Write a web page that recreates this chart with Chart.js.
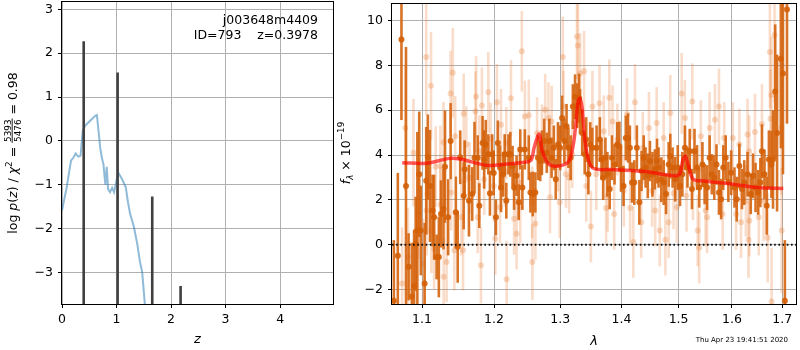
<!DOCTYPE html>
<html>
<head>
<meta charset="utf-8">
<script src="https://cdn.jsdelivr.net/npm/chart.js@4.4.1/dist/chart.umd.min.js"></script>
<style>
  html, body { margin: 0; padding: 0; background: #fff; }
  #wrap { position: relative; width: 800px; height: 350px; overflow: hidden; }
  canvas { position: absolute; top: 0; }
  #pz { left: 0; }
  #spec { left: 330px; }
</style>
</head>
<body>
<div id="wrap">
  <canvas id="pz" width="340" height="350"></canvas>
  <canvas id="spec" width="470" height="350"></canvas>
</div>
<script>
// ---- left panel: log p(z) ----
const zGrid = [0, 0.086, 0.165, 0.21, 0.25, 0.30, 0.34, 0.38, 0.42, 0.46, 0.61, 0.64, 0.70, 0.73, 0.76, 0.795, 0.82, 0.845, 0.88, 0.92, 0.955, 0.98, 1.03, 1.10, 1.17, 1.21, 1.25, 1.32, 1.38, 1.43, 1.47, 1.52, 1.58];
const logPz = [-1.59, -1.06, -0.45, -0.38, -0.29, -0.36, -0.34, 0.23, 0.34, 0.39, 0.57, 0.59, -0.15, -0.38, -0.53, -1.0, -0.59, -1.10, -1.17, -1.07, -1.17, -1.02, -0.72, -0.87, -1.06, -1.40, -1.67, -1.97, -2.35, -2.76, -2.99, -3.73, -4.3];
const spikeZ = [0.398, 1.02, 1.655, 2.175];
const spikeTop = [2.27, 1.56, -1.27, -3.31];
const pzXTicks = [0, 1, 2, 3, 4];
const pzYTicks = [-3, -2, -1, 0, 1, 2, 3];

// ---- right panel: spectrum ----
const darkLam = [1.0632, 1.0683, 1.0730, 1.0789, 1.0823, 1.0865, 1.0895, 1.0916, 1.0938, 1.0963, 1.0984, 1.1035, 1.1056, 1.1077, 1.1107, 1.1141, 1.1162, 1.1196, 1.1226, 1.1255, 1.1289, 1.1310, 1.1353, 1.1387, 1.1459, 1.1485, 1.1520,
  1.1568, 1.1582, 1.1642, 1.1688, 1.1720, 1.1766, 1.1789, 1.1835, 1.1858, 1.1881, 1.1918, 1.1941, 1.1973, 1.1996, 1.2028, 1.2056, 1.2088, 1.2102, 1.2134, 1.2157, 1.2180, 1.2212, 1.2240, 1.2272, 1.2295, 1.2332, 1.2364, 1.2387, 1.2419, 1.2456,
  1.2515, 1.2540, 1.2575, 1.2615, 1.2655, 1.2690, 1.2715, 1.2750, 1.2790, 1.2830, 1.2865, 1.2900, 1.2930, 1.2965, 1.3000, 1.3030, 1.3065, 1.3100, 1.3130, 1.3165, 1.3200, 1.3235, 1.3270, 1.3300, 1.3315, 1.3350, 1.3390, 1.3415, 1.3450, 1.3480, 1.3515,
  1.3584, 1.3638, 1.3665, 1.3693, 1.3730, 1.3763, 1.3801, 1.3839, 1.3882, 1.3926, 1.3964, 1.3991, 1.4034, 1.4072, 1.4110, 1.4142, 1.4180, 1.4218, 1.4262, 1.4305, 1.4343, 1.4381, 1.4413, 1.4451, 1.4489, 1.4533, 1.4576, 1.4614, 1.4641, 1.4690,
  1.4732, 1.4774, 1.4821, 1.4850, 1.4891, 1.4938, 1.4985, 1.5026, 1.5068, 1.5115, 1.5162, 1.5203, 1.5244, 1.5291, 1.5338, 1.5379, 1.5438, 1.5479, 1.5526, 1.5573, 1.5614, 1.5661, 1.5703, 1.5750, 1.5791, 1.5832, 1.5879, 1.5930,
  1.5984, 1.6048, 1.6092, 1.6143, 1.6194, 1.6239, 1.6303, 1.6367, 1.6411, 1.6462, 1.6513, 1.6558, 1.6590, 1.6641, 1.6686, 1.6730, 1.6781, 1.6813, 1.6858, 1.6896, 1.6973, 1.7017, 1.7056, 1.7100];
const darkFlux = [-2.5, -0.5, 9.16, 2.62, -0.99, -2.32, -1.83, 0.04, 0.63, 3.14, 0.63, -1.73, 2.85, 3.91, 2.62, 1.52, 1.22, -0.55, -0.55, 1.37, 1.59, 3.48, 1.22, 4.62, 1.44, -0.1, 3.9,
  2.18, 3.36, 1.96, 2.26, 3.88, 3.88, 1.74, 4.54, 3.80, 4.47, 4.03, 2.29, 4.03, 3.20, 1.22, 4.54, 3.43, 2.55, 3.14, 4.03, 1.96, 4.03, 4.03, 3.51, 2.55, 3.07, 1.89, 4.25, 2.55, 4.25,
  3.88, 2.33, 2.26, 2.33, 3.88, 3.73, 4.10, 4.62, 4.10, 4.62, 3.88, 4.32, 2.92, 4.47, 4.32, 5.65, 4.62, 5.28, 4.32, 3.88, 6.16, 6.60, 6.20, 6.53, 5.94, 4.98, 4.03, 4.69, 3.14, 4.47, 4.32,
  4.32, 4.69, 3.80, 2.99, 3.88, 3.14, 2.48, 3.88, 3.58, 4.47, 4.39, 3.36, 2.62, 4.76, 4.76, 4.32, 2.77, 2.77, 4.32, 1.89, 3.29, 3.88, 3.44, 3.07, 3.73, 3.14, 3.36, 3.73, 3.44, 2.90,
  2.77, 2.26, 3.58, 3.95, 3.44, 2.92, 3.44, 2.62, 3.14, 4.32, 3.44, 4.17, 2.48, 4.17, 3.44, 2.55, 3.58, 2.70, 2.55, 3.88, 3.14, 2.99, 3.58, 2.33, 2.03, 3.44, 3.88, 2.80,
  3.21, 2.55, 2.03, 3.51, 2.48, 2.77, 3.14, 2.26, 3.07, 2.55, 2.33, 2.77, 4.17, 3.14, 1.74, 3.80, 3.58, 3.80, 6.83, 4.98, 8.30, 7.64, -2.5, 10.5];
const darkErr = [2.7, 3.7, 3.6, 6.2, 1.5, 2.4, 2.5, 2.1, 4.4, 2.8, 2.0, 2.7, 2.4, 1.9, 2.5, 1.6, 1.9, 1.0, 1.8, 1.5, 1.8, 2.5, 1.7, 1.7, 1.6, 1.6, 1.2,
  1.5, 1.3, 1.6, 1.2, 1.6, 1.0, 1.0, 1.2, 1.3, 1.1, 0.9, 1.0, 0.9, 1.0, 0.8, 1.0, 1.0, 1.1, 1.0, 0.9, 0.8, 0.9, 1.0, 0.9, 1.0, 0.9, 0.8, 0.9, 1.0, 0.9,
  1.0, 0.9, 1.0, 0.9, 1.0, 0.9, 1.0, 1.0, 0.9, 1.0, 0.9, 1.0, 0.9, 1.0, 1.0, 1.0, 1.0, 1.0, 0.9, 1.0, 1.0, 1.0, 1.0, 1.1, 1.0, 1.0, 0.9, 1.0, 0.9, 1.0, 0.9,
  1.0, 1.0, 0.9, 1.0, 0.9, 1.0, 0.9, 1.0, 0.9, 1.0, 1.1, 1.0, 0.9, 1.0, 1.1, 1.0, 0.9, 1.0, 1.0, 1.0, 0.9, 1.0, 0.9, 1.0, 0.9, 1.0, 0.9, 1.0, 0.9, 1.0,
  1.0, 0.9, 1.0, 1.0, 0.9, 1.0, 1.0, 0.9, 1.0, 1.0, 0.9, 1.0, 0.9, 1.0, 1.0, 0.9, 1.0, 0.9, 1.0, 1.0, 0.9, 1.0, 0.9, 1.0, 0.9, 1.0, 1.0, 0.9,
  1.0, 0.9, 1.0, 1.0, 0.9, 1.0, 1.0, 0.9, 1.0, 1.1, 1.0, 1.1, 1.2, 1.1, 1.3, 1.3, 1.5, 2.2, 3.0, 3.5, 4.0, 4.5, 2.7, 5.1];

const lightLam = [1.0738, 1.0780, 1.0815, 1.0887, 1.0950, 1.1014, 1.1056, 1.1060, 1.1070, 1.1120, 1.1125, 1.1162, 1.1183, 1.1247, 1.1250, 1.1289, 1.1292, 1.1332, 1.1387, 1.1395, 1.1417, 1.1438, 1.1450,
  1.1536, 1.1559, 1.1568, 1.1605, 1.1651, 1.1734, 1.1743, 1.1766, 1.1789, 1.1812, 1.1826, 1.1858, 1.1918, 1.1950, 1.1996, 1.2019, 1.2042, 1.2088, 1.2102, 1.2157, 1.2180, 1.2185, 1.2249, 1.2295, 1.2332, 1.2364, 1.2387, 1.2410, 1.2456,
  1.2516, 1.2566, 1.2570, 1.2616, 1.2641, 1.2716, 1.2766, 1.2816, 1.2841, 1.2866, 1.2966, 1.2991, 1.3041, 1.3051, 1.3091, 1.3141, 1.3191, 1.3266, 1.3281, 1.3316, 1.3381, 1.3416, 1.3491, 1.3516,
  1.3578, 1.3632, 1.3703, 1.3741, 1.3768, 1.3795, 1.3849, 1.3876, 1.3930, 1.4039, 1.4093, 1.4147, 1.4201, 1.4229, 1.4337, 1.4364, 1.4472, 1.4527, 1.4581, 1.4608, 1.4662,
  1.4732, 1.4762, 1.4821, 1.4850, 1.4909, 1.4968, 1.5056, 1.5115, 1.5144, 1.5250, 1.5262, 1.5350, 1.5379, 1.5409, 1.5497, 1.5526, 1.5573, 1.5673, 1.5750, 1.5820, 1.5850,
  1.6016, 1.6080, 1.6143, 1.6175, 1.6271, 1.6303, 1.6322, 1.6335, 1.6340, 1.6450, 1.6526, 1.6590, 1.6622, 1.6705, 1.6750, 1.6762, 1.6781, 1.6785, 1.6845, 1.6986, 1.6990];
const lightFlux = [-1.73, 5.21, -0.55, 4.10, 1.37, -0.84, 8.38, 1.52, 2.26, 7.09, 0.63, -0.18, 3.48, 3.51, 1.78, 4.57, -1.43, -0.77, 6.75, 2.33, 7.67, -0.25, 4.84,
  1.22, -0.25, 5.84, 4.47, 2.99, 5.94, 6.61, 1.22, 4.17, -0.92, 6.21, 2.92, 6.80, 4.73, 2.62, 0.26, 6.36, 1.67, 5.35, 3.29, 4.54, -1.55, 6.53, 1.15, 0.49, 2.77, 1.67, 8.63, 5.72,
  5.77, 1.89, -0.77, 0.93, 4.98, 4.76, 6.02, 5.65, 2.11, 5.50, 3.88, 1.89, 8.38, 6.16, 3.14, 2.99, 4.03, 9.29, 8.89, 7.64, 7.74, 2.62, 0.81, 6.16,
  3.14, 6.31, 5.06, 1.64, 2.18, 6.56, 5.50, 1.37, 4.69, 2.40, 5.82, 1.64, 0.12, 6.36, 1.00, 4.32, 5.21, 2.40, 1.52, 5.43, 0.63,
  4.76, 0.22, 1.00, 5.87, 2.29, 1.67, 6.75, 5.65, 2.18, 6.39, 2.70, 0.63, -0.13, 4.84, 1.52, 1.22, 5.21, 5.57, 6.16, 1.37, 4.76,
  4.76, 1.37, 4.47, 1.00, 1.96, 4.91, 0.22, 4.17, 1.07, 5.03, 1.22, 5.38, 1.96, 0.31, 8.60, 5.62, 6.68, -2.54, 9.36, 5.21, 0.63];
const lightErr = [2.5, 2.8, 2.2, 2.4, 2.0, 2.0, 2.6, 2.0, 1.8, 2.4, 1.9, 1.8, 1.8, 1.8, 1.7, 1.8, 1.7, 1.8, 1.9, 1.7, 2.0, 1.8, 1.8,
  1.7, 1.8, 1.8, 1.7, 1.6, 1.8, 1.8, 1.6, 1.6, 1.7, 1.7, 1.6, 1.8, 1.6, 1.6, 1.6, 1.7, 1.6, 1.6, 1.6, 1.6, 1.7, 1.7, 1.6, 1.6, 1.6, 1.6, 1.8, 1.6,
  1.6, 1.6, 1.7, 1.6, 1.6, 1.5, 1.6, 1.6, 1.6, 1.6, 1.5, 1.6, 1.8, 1.6, 1.5, 1.6, 1.5, 1.9, 1.9, 1.8, 1.8, 1.6, 1.6, 1.6,
  1.6, 1.7, 1.6, 1.6, 1.6, 1.7, 1.6, 1.6, 1.6, 1.6, 1.6, 1.6, 1.6, 1.7, 1.6, 1.6, 1.6, 1.6, 1.6, 1.6, 1.6,
  1.6, 1.6, 1.6, 1.7, 1.6, 1.6, 1.8, 1.7, 1.6, 1.7, 1.6, 1.6, 1.6, 1.6, 1.6, 1.6, 1.6, 1.6, 1.7, 1.6, 1.6,
  1.6, 1.6, 1.6, 1.6, 1.6, 1.6, 1.7, 1.6, 1.6, 1.7, 1.7, 1.8, 1.8, 2.0, 2.5, 2.2, 2.6, 2.4, 3.0, 3.0, 2.8];

const modelLam = [1.074, 1.106, 1.1376, 1.1536, 1.1888, 1.2224, 1.242, 1.2547, 1.2596, 1.2672, 1.2722, 1.2826, 1.2981, 1.3137, 1.3216, 1.3285, 1.3312, 1.335, 1.3403, 1.351, 1.384, 1.4404, 1.4932, 1.5022, 1.508, 1.5122, 1.5171, 1.5262, 1.5416, 1.5917, 1.65, 1.7024];
const modelFlux = [3.66, 3.63, 3.85, 3.81, 3.54, 3.61, 3.67, 3.76, 4.32, 4.94, 4.17, 3.58, 3.51, 3.73, 4.62, 6.39, 6.53, 6.09, 4.47, 3.44, 3.35, 3.26, 3.07, 3.17, 3.81, 3.95, 3.58, 2.92, 2.85, 2.73, 2.55, 2.51];

const specXTicks = [1.1, 1.2, 1.3, 1.4, 1.5, 1.6, 1.7];
const specYTicks = [-2, 0, 2, 4, 6, 8, 10];

const FONT = "'DejaVu Sans', sans-serif";
Chart.defaults.font.family = FONT;
Chart.defaults.font.size = 12.5;
Chart.defaults.color = '#000';
Chart.defaults.animation = false;

const minus = v => String(v).replace('-', '\u2212');

function pts(xs, ys) {
  return xs.map((x, i) => ({ x: x, y: ys[i] }));
}

// error bars drawn right before their own markers
const errorBars = {
  id: 'errorBars',
  beforeDatasetDraw(chart, args) {
    const ds = chart.data.datasets[args.index];
    if (!ds.errors) return;
    const { ctx, chartArea: a, scales: { x, y } } = chart;
    ctx.save();
    ctx.beginPath();
    ctx.rect(a.left, a.top, a.right - a.left, a.bottom - a.top);
    ctx.clip();
    ctx.strokeStyle = ds.errorColor;
    ctx.lineWidth = ds.errorWidth;
    ds.data.forEach((p, i) => {
      const px = x.getPixelForValue(p.x);
      ctx.beginPath();
      ctx.moveTo(px, y.getPixelForValue(p.y - ds.errors[i]));
      ctx.lineTo(px, y.getPixelForValue(p.y + ds.errors[i]));
      ctx.stroke();
    });
    ctx.restore();
  }
};

// rich text: pieces laid out along a line, centred on (x, y)
function drawRich(ctx, parts, x, y, rot) {
  const fontOf = p => (p.i ? 'italic ' : '') + p.s + 'px ' + FONT;
  let total = 0;
  parts.forEach(p => {
    if (p.frac) {
      ctx.font = p.s + 'px ' + FONT;
      p.w = Math.max(ctx.measureText(p.frac[0]).width, ctx.measureText(p.frac[1]).width) + 2;
    } else {
      ctx.font = fontOf(p);
      p.w = ctx.measureText(p.t).width;
    }
    total += p.w;
  });
  ctx.save();
  ctx.translate(x, y);
  ctx.rotate(rot);
  ctx.fillStyle = '#000';
  ctx.textBaseline = 'alphabetic';
  ctx.textAlign = 'left';
  let cx = -total / 2;
  parts.forEach(p => {
    if (p.frac) {
      ctx.font = p.s + 'px ' + FONT;
      ctx.textAlign = 'center';
      ctx.fillText(p.frac[0], cx + p.w / 2, -6.5);
      ctx.fillText(p.frac[1], cx + p.w / 2, 3.5);
      ctx.fillRect(cx, -5.3, p.w, 0.9);
      ctx.textAlign = 'left';
    } else {
      ctx.font = fontOf(p);
      ctx.fillText(p.t, cx, p.dy || 0);
    }
    cx += p.w;
  });
  ctx.restore();
}

// black box round the plot area plus the panel's own texts
function framePlugin(drawTexts) {
  return {
    id: 'frame',
    afterDraw(chart) {
      const { ctx, chartArea: a } = chart;
      ctx.save();
      ctx.strokeStyle = '#000';
      ctx.lineWidth = 1;
      ctx.strokeRect(Math.round(a.left) - 0.5, Math.round(a.top) - 0.5, Math.round(a.right - a.left) + 1, Math.round(a.bottom - a.top) + 1);
      ctx.restore();
      drawTexts(ctx, a);
    }
  };
}

function axis(min, max, ticks, fmt, type, size) {
  return {
    type: type || 'linear',
    min: min,
    max: max,
    afterBuildTicks: s => { s.ticks = ticks.map(v => ({ value: v })); },
    afterFit: s => {
      if (s.isHorizontal()) s.height = size; else s.width = size;
      s.paddingTop = 0; s.paddingBottom = 0; s.paddingLeft = 0; s.paddingRight = 0;
    },
    ticks: { autoSkip: false, maxRotation: 0, padding: 5, callback: fmt, font: { size: 12.5 }, color: '#000' },
    grid: { color: '#b0b0b0', lineWidth: 1, tickColor: '#000', tickLength: 4, tickWidth: 1 },
    border: { display: false }
  };
}

// ---- left chart ----
const spikeData = [];
spikeZ.forEach((z, i) => {
  spikeData.push({ x: z, y: -6 }, { x: z, y: spikeTop[i] }, { x: z, y: null });
});

const pzX = axis(0, 4.97, pzXTicks, v => minus(v), 'linear', 46);
pzX.ticks.padding = 4;
const pzY = axis(-3.72, 3.167, pzYTicks, v => minus(v), 'linear', 62);

new Chart(document.getElementById('pz'), {
  type: 'scatter',
  data: {
    datasets: [
      { data: spikeData, showLine: true, spanGaps: false, borderColor: '#404040', borderWidth: 2.6, pointRadius: 0, order: 0 },
      { data: pts(zGrid, logPz), showLine: true, borderColor: 'rgba(31,119,180,0.5)', borderWidth: 2, pointRadius: 0, order: 1 }
    ]
  },
  options: {
    responsive: false,
    devicePixelRatio: 1,
    layout: { padding: { top: 2, right: 7, left: 0, bottom: 0 } },
    scales: { x: pzX, y: pzY },
    plugins: { legend: { display: false }, tooltip: { enabled: false } }
  },
  plugins: [framePlugin((ctx, a) => {
    ctx.save();
    ctx.fillStyle = '#000';
    ctx.font = '12.5px ' + FONT;
    ctx.textAlign = 'right';
    ctx.fillText('j003648m4409', 318, 24);
    ctx.fillText('ID=793    z=0.3978', 318, 39);
    ctx.textAlign = 'center';
    ctx.font = 'italic 13px ' + FONT;
    ctx.fillText('z', (a.left + a.right) / 2, 343);
    ctx.restore();
    drawRich(ctx, [
      { t: 'log ', s: 12.5 }, { t: 'p', s: 12.5, i: true }, { t: '(', s: 12.5 }, { t: 'z', s: 12.5, i: true },
      { t: ') / ', s: 12.5 }, { t: '\u03c7', s: 12.5, i: true }, { t: '2', s: 8.8, dy: -5 }, { t: ' = ', s: 12.5 },
      { frac: ['5393', '5476'], s: 8.8 }, { t: ' = 0.98', s: 12.5 }
    ], 17, 153, -Math.PI / 2);
  })]
});

// ---- right chart ----
const spX = axis(1.0608, 1.7287, specXTicks, v => Number(v).toFixed(1), 'logarithmic', 46);
spX.ticks.padding = 4;
const spY = axis(-2.65, 10.74, specYTicks, v => minus(v), 'linear', 62);

new Chart(document.getElementById('spec'), {
  type: 'scatter',
  data: {
    datasets: [
      { data: [{ x: 1.0608, y: 0 }, { x: 1.7287, y: 0 }], showLine: true, borderColor: '#111', borderWidth: 2, borderDash: [1.6, 2.6], pointRadius: 0, order: 0 },
      { data: pts(modelLam, modelFlux), showLine: true, borderColor: 'rgba(255,0,0,0.65)', borderWidth: 3.5, pointRadius: 0, tension: 0.3, order: 1 },
      { data: pts(darkLam, darkFlux), errors: darkErr, errorColor: 'rgba(212,96,8,0.88)', errorWidth: 2.6, pointRadius: 3, pointBackgroundColor: 'rgba(212,96,8,0.9)', pointBorderWidth: 0, order: 2 },
      { data: pts(lightLam, lightFlux), errors: lightErr, errorColor: 'rgba(232,130,60,0.28)', errorWidth: 2.6, pointRadius: 3, pointBackgroundColor: 'rgba(232,130,60,0.3)', pointBorderWidth: 0, order: 3 }
    ]
  },
  options: {
    responsive: false,
    devicePixelRatio: 1,
    layout: { padding: { top: 2, right: 1, left: 0, bottom: 0 } },
    scales: { x: spX, y: spY },
    plugins: { legend: { display: false }, tooltip: { enabled: false } }
  },
  plugins: [errorBars, framePlugin((ctx, a) => {
    ctx.save();
    ctx.fillStyle = '#000';
    ctx.textAlign = 'center';
    ctx.font = 'italic 13px ' + FONT;
    ctx.fillText('\u03bb', (a.left + a.right) / 2, 345);
    ctx.font = '7px ' + FONT;
    ctx.textAlign = 'right';
    ctx.fillText('Thu Apr 23 19:41:51 2020', 458, 342);
    ctx.restore();
    drawRich(ctx, [
      { t: 'f', s: 12.5, i: true }, { t: '\u03bb', s: 8.8, i: true, dy: 3 },
      { t: ' \u00d7 10', s: 12.5 }, { t: '\u221219', s: 8.8, dy: -6 }
    ], 20, 153, -Math.PI / 2);
  })]
});
</script>
</body>
</html>
